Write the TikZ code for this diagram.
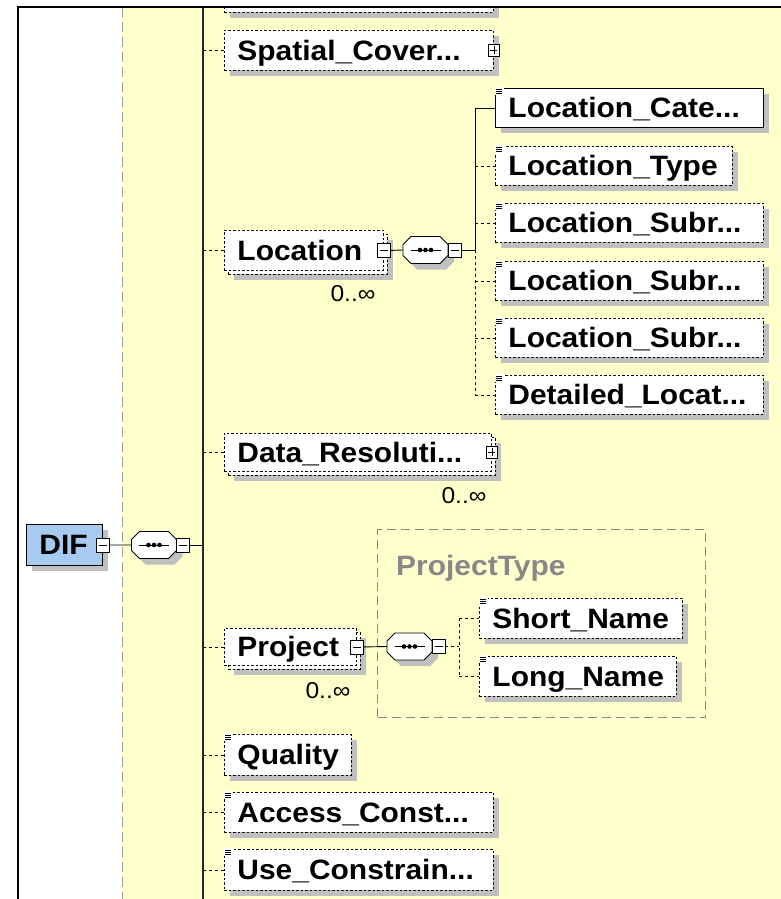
\documentclass[tikz,border=0pt]{standalone}
\usepackage{fontspec}
\setmainfont{Liberation Sans}[FakeStretch=1.07]
\usetikzlibrary{shadows}
\definecolor{bgyellow}{RGB}{255,255,204}
\definecolor{shgray}{RGB}{192,192,192}
\definecolor{difblue}{RGB}{166,202,240}
\definecolor{ptgray}{RGB}{136,136,136}
\newcommand\leafmark[1]{%
  \fill[white] ([shift={(0,-1)}]#1.north west) rectangle ++(9,8);
  \foreach \dy in {1,3,5} \draw[line width=0.7pt] ([shift={(1,\dy)}]#1.north west) -- ++(6,0);
}
\newcommand\octpath[3]{([shift={(-14.5+#2,-13.5+#3)}]#1) -- ([shift={(14.5+#2,-13.5+#3)}]#1)
  -- ([shift={(22.5+#2,-5.5+#3)}]#1) -- ([shift={(22.5+#2,5.5+#3)}]#1)
  -- ([shift={(14.5+#2,13.5+#3)}]#1) -- ([shift={(-14.5+#2,13.5+#3)}]#1)
  -- ([shift={(-22.5+#2,5.5+#3)}]#1) -- ([shift={(-22.5+#2,-5.5+#3)}]#1) -- cycle}
\newcommand\seqdeco[1]{%
  \fill[shgray] \octpath{#1.center}{6}{6};
  \filldraw[fill=white, line width=0.9pt, line join=miter] \octpath{#1.center}{0}{0};
  \draw[line width=0.9pt] ([xshift=-15pt]#1.center) -- ([xshift=15pt]#1.center);
  \foreach \dx in {-5.5,0,5.5} \fill ([xshift=\dx pt]#1.center) circle (2.3pt);
}
\tikzset{
  box/.style={draw, fill=white, line width=0.9pt, anchor=north west,
    font=\fontsize{28}{32}\selectfont\bfseries, inner xsep=13pt, inner ysep=0pt,
    align=left, text height=24pt, text depth=4pt},
  shad/.style={general shadow={fill=shgray, shadow xshift=6pt, shadow yshift=-6pt}},
  opt/.style={box, dash pattern=on 2.5pt off 2pt, shad},
  optback/.style={box, dash pattern=on 2.5pt off 2pt, shad},
  optfront/.style={box, dash pattern=on 2.5pt off 2pt},
  req/.style={box, shad},
  exp/.style={draw, fill=white, line width=0.8pt, minimum width=13pt, minimum height=14pt,
    inner sep=0pt, outer sep=0pt},
  minusbox/.style={exp, path picture={\draw[line width=0.9pt]
      ([xshift=2.5pt]path picture bounding box.west) -- ([xshift=-2.5pt]path picture bounding box.east);}},
  plusbox/.style={exp, minimum width=11pt, minimum height=12pt, path picture={\draw[line width=0.8pt]
      ([xshift=2pt]path picture bounding box.west) -- ([xshift=-2pt]path picture bounding box.east);
      \draw[line width=0.8pt]
      ([yshift=-2pt]path picture bounding box.north) -- ([yshift=2pt]path picture bounding box.south);}},
  seq/.style={minimum width=45pt, minimum height=27pt, inner sep=0pt, outer sep=0pt},
  sconn/.style={line width=0.9pt},
  dconn/.style={line width=0.9pt, dash pattern=on 3pt off 3pt},
  occ/.style={font=\fontsize{23}{26}\selectfont, inner sep=0pt},
}
\begin{document}
\begin{tikzpicture}[x=1pt, y=-1pt]
\useasboundingbox (0,0) rectangle (781,899);
\fill[white] (0,0) rectangle (781,899);
\fill[bgyellow] (122,7) rectangle (781,899);
\begin{scope}
\clip (18,7) rectangle (781,899);
\draw[ptgray!80, line width=1pt, dash pattern=on 10pt off 5pt] (122,7) -- (122,899);
\coordinate (mtop) at (203,7);
\coordinate (mbot) at (203,899);
\draw[line width=1.3pt, black!85] (mtop) -- (mbot);

% top partially visible element
\node[opt, text width=243pt, minimum height=40pt] (topbox) at (224,-28) {};
\draw[dconn] (mtop |- topbox.west) -- (topbox.west);

% Spatial coverage
\node[opt, text width=243pt, minimum height=40pt] (spatial) at (224,30) {Spatial\_Cover...};
\node[plusbox] (spatialx) at (spatial.east) {};
\draw[dconn] (mtop |- spatial.west) -- (spatial.west);

% Location
\node[optback, text width=133pt, minimum height=40pt] (locb) at (228,234) {};
\node[optfront, text width=133pt, minimum height=40pt] (loc) at (224,230) {Location};
\node[minusbox] (locx) at (loc.east) {};
\node[occ] (lococc) at (353,294) {0..∞};
\draw[dconn] (mtop |- loc.west) -- (loc.west);
\node[seq] (seq2) at (425.5,250) {};
\seqdeco{seq2}
\node[minusbox, anchor=west] (seq2x) at (seq2.east) {};
\draw[sconn] (locx.east) -- (seq2.west);
\coordinate (lbus) at (475,250);
\node[req, text width=242pt, minimum height=39pt] (cate) at (495,88) {Location\_Cate...};
\node[opt, text width=211pt, minimum height=39pt] (ltype) at (495,146) {Location\_Type};
\node[opt, text width=242pt, minimum height=39pt] (subr1) at (495,203) {Location\_Subr...};
\node[opt, text width=242pt, minimum height=39pt] (subr2) at (495,261) {Location\_Subr...};
\node[opt, text width=242pt, minimum height=39pt] (subr3) at (495,318) {Location\_Subr...};
\node[opt, text width=242pt, minimum height=39pt] (detail) at (495,375) {Detailed\_Locat...};
\draw[sconn] (seq2x.east) -- (lbus |- seq2x.east);
\draw[sconn] (lbus |- seq2x.east) -- (lbus |- cate.west) -- (cate.west);
\draw[dconn] (lbus |- seq2x.east) -- (lbus |- detail.west);
\foreach \n in {ltype,subr1,subr2,subr3,detail} \draw[dconn] (lbus |- \n.west) -- (\n.west);
\foreach \n in {cate,ltype,subr1,subr2,subr3,detail} {\leafmark{\n}}

% Data resolution
\node[optback, text width=241pt, minimum height=38pt] (datab) at (228,437) {};
\node[optfront, text width=241pt, minimum height=38pt] (data) at (224,433) {Data\_Resoluti...};
\node[plusbox] (datax) at (data.east) {};
\node[occ] (dataocc) at (464,496) {0..∞};
\draw[dconn] (mtop |- data.west) -- (data.west);

% DIF root
\node[req, fill=difblue, text width=50pt, minimum height=41pt] (dif) at (26,524) {DIF};
\node[minusbox] (difx) at (dif.east) {};
\node[seq] (seq1) at (154,545) {};
\seqdeco{seq1}
\node[minusbox, anchor=west] (seq1x) at (seq1.east) {};
\draw[sconn] (difx.east) -- (seq1.west);
\draw[sconn] (seq1x.east) -- (mtop |- seq1x.east);

% Project
\node[draw=ptgray, line width=1.1pt, dash pattern=on 9pt off 5pt, anchor=north west,
      minimum width=328pt, minimum height=188pt, inner sep=0pt] (ptype) at (377,529) {};
\node[anchor=base west, text=ptgray, font=\fontsize{28}{32}\selectfont\bfseries, inner sep=0pt]
      (ptlabel) at (396,575) {ProjectType};
\node[optback, text width=106pt, minimum height=37pt] (projb) at (228,632) {};
\node[optfront, text width=106pt, minimum height=37pt] (proj) at (224,628) {Project};
\node[minusbox] (projx) at (proj.east) {};
\node[occ] (projocc) at (328,691) {0..∞};
\draw[dconn] (mtop |- proj.west) -- (proj.west);
\node[seq] (seq3) at (409.5,646.5) {};
\seqdeco{seq3}
\node[minusbox, anchor=west] (seq3x) at (seq3.east) {};
\draw[sconn] (projx.east) -- (seq3.west);
\coordinate (pbus) at (459,646.5);
\node[opt, text width=177pt, minimum height=40pt] (shortn) at (479,598) {Short\_Name};
\node[opt, text width=171pt, minimum height=40pt] (longn) at (479,656) {Long\_Name};
\draw[dconn] (seq3x.east) -- (pbus |- seq3x.east);
\draw[dconn] (pbus |- shortn.west) -- (pbus |- longn.west);
\draw[dconn] (pbus |- shortn.west) -- (shortn.west);
\draw[dconn] (pbus |- longn.west) -- (longn.west);
\leafmark{shortn}
\leafmark{longn}

% Quality, constraints
\node[opt, text width=101pt, minimum height=41pt] (quality) at (224,734) {Quality};
\node[opt, text width=243pt, minimum height=40pt] (access) at (224,792) {Access\_Const...};
\node[opt, text width=243pt, minimum height=41pt] (usec) at (224,849) {Use\_Constrain...};
\foreach \n in {quality,access,usec} {
  \draw[dconn] (mtop |- \n.west) -- (\n.west);
  \leafmark{\n}
}
\end{scope}
\draw[line width=2pt] (18,899) -- (18,7) -- (781,7);
\end{tikzpicture}
\end{document}
